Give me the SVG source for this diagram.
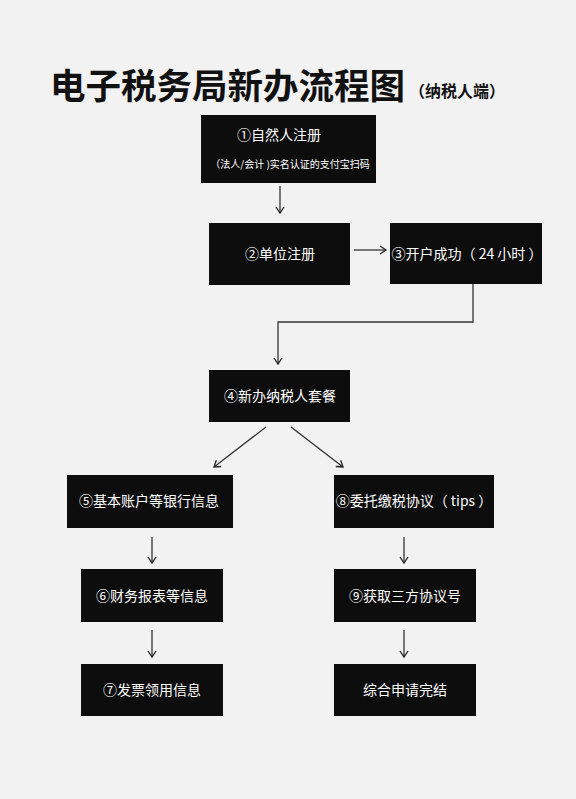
<svg xmlns="http://www.w3.org/2000/svg" width="576" height="799" viewBox="0 0 576 799">
<defs>
<marker id="arr" markerWidth="10" markerHeight="10" refX="8" refY="5" orient="auto" markerUnits="userSpaceOnUse">
<path d="M2,1 L8,5 L2,9" fill="none" stroke="#222" stroke-width="1.3"/>
</marker>
<style>
.box{fill:#0d0d0d}
.t{fill:#ffffff;font-family:"Microsoft YaHei","Noto Sans CJK SC",sans-serif;font-size:14px;text-anchor:middle}
.s{font-size:10px}
.ln{fill:none;stroke:#333;stroke-width:1.3;marker-end:url(#arr)}
.title{font-family:"Noto Sans CJK SC",sans-serif;font-weight:bold;fill:#111}
</style>
</defs>
<rect width="576" height="799" fill="#f2f2f2"/>
<g id="title">
<text class="title" x="50" y="99" font-size="35.5">电子税务局新办流程图</text>
<text class="title" x="409" y="97" font-size="16">（纳税人端）</text>
</g>
<g id="n1"><rect class="box" x="201" y="115" width="175" height="68"/>
<text class="t" x="279" y="140">①自然人注册</text>
<text class="t s" x="290" y="168">（法人/会计 )实名认证的支付宝扫码</text></g>
<g id="n2"><rect class="box" x="209" y="223" width="141" height="62"/>
<text class="t" x="280" y="259">②单位注册</text></g>
<g id="n3"><rect class="box" x="390" y="223" width="152" height="61"/>
<text class="t" x="467" y="259">③开户成功（ 24 小时 ）</text></g>
<g id="n4"><rect class="box" x="209" y="370" width="141" height="52"/>
<text class="t" x="280" y="401">④新办纳税人套餐</text></g>
<g id="n5"><rect class="box" x="67" y="475" width="166" height="53"/>
<text class="t" x="149" y="506">⑤基本账户等银行信息</text></g>
<g id="n6"><rect class="box" x="81" y="569" width="142" height="53"/>
<text class="t" x="152" y="601">⑥财务报表等信息</text></g>
<g id="n7"><rect class="box" x="81" y="664" width="142" height="52"/>
<text class="t" x="152" y="695">⑦发票领用信息</text></g>
<g id="n8"><rect class="box" x="334" y="475" width="160" height="53"/>
<text class="t" x="414" y="506">⑧委托缴税协议（ tips ）</text></g>
<g id="n9"><rect class="box" x="334" y="569" width="142" height="53"/>
<text class="t" x="405" y="601">⑨获取三方协议号</text></g>
<g id="n10"><rect class="box" x="334" y="664" width="142" height="52"/>
<text class="t" x="405" y="695">综合申请完结</text></g>
<g id="connectors">
<path class="ln" d="M280,186 V213"/>
<path class="ln" d="M354,250 H386"/>
<path class="ln" d="M473,284 V322 H278 V364"/>
<path class="ln" d="M266,427 L214,467"/>
<path class="ln" d="M291,427 L343,467"/>
<path class="ln" d="M152,537 V563"/>
<path class="ln" d="M152,630 V657"/>
<path class="ln" d="M404,537 V563"/>
<path class="ln" d="M404,630 V657"/>
</g>
</svg>
